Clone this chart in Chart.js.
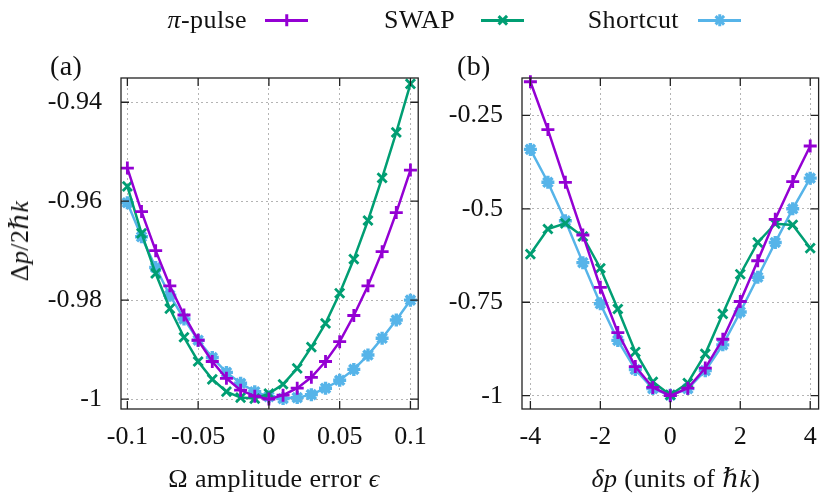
<!DOCTYPE html>
<html>
<head>
<meta charset="utf-8">
<script src="https://cdn.jsdelivr.net/npm/chart.js@4.4.0/dist/chart.umd.min.js"></script>
<style>
  body { margin: 0; background: #fff; }
  #wrap { position: relative; width: 830px; height: 496px; overflow: hidden;
          font-family: "Liberation Serif", "DejaVu Serif", serif; color: #111; }
  canvas { position: absolute; top: 0; }
  .t { position: absolute; font-size: 26px; line-height: 1; white-space: nowrap; letter-spacing: 0.4px; }
  .mk { position: absolute; }
  .bar { position: absolute; left: -6px; top: -1.25px; width: 12px; height: 2.5px; }
</style>
</head>
<body>
<div id="wrap">
  <canvas id="cA" width="440" height="496" style="left:0"></canvas>
  <canvas id="cB" width="390" height="496" style="left:440px"></canvas>
  <div class="t" style="left:50px;top:52px;font-size:28px">(a)</div>
  <div class="t" style="left:457px;top:52px;font-size:28px">(b)</div>
  <div class="t" style="left:20px;top:241px;transform:translate(-50%,-50%) rotate(-90deg)">Δ<i>p</i>/2<i>ℏk</i></div>
  <div class="t" style="left:274px;top:479px;transform:translate(-50%,-50%)">Ω amplitude error <i>ϵ</i></div>
  <div class="t" style="left:676px;top:479px;transform:translate(-50%,-50%)"><i>δp</i> (units of <i>ℏk</i>)</div>
  <div id="legend"></div>
</div>
<script>
// Ω amplitude error (panel a)
const epsX = [-0.1, -0.09, -0.08, -0.07, -0.06, -0.05, -0.04, -0.03, -0.02, -0.01, 0,
              0.01, 0.02, 0.03, 0.04, 0.05, 0.06, 0.07, 0.08, 0.09, 0.1];
const piEps    = [-0.9533, -0.9621, -0.9700, -0.9771, -0.9830, -0.9881, -0.9924, -0.9958, -0.9982, -0.9994, -1.0,
                  -0.9992, -0.9978, -0.9956, -0.9924, -0.9884, -0.9831, -0.9771, -0.9702, -0.9623, -0.9537];
const swapEps  = [-0.9570, -0.9665, -0.9746, -0.9817, -0.9875, -0.9924, -0.9960, -0.9985, -0.9997, -0.9999, -0.9989,
                  -0.9970, -0.9938, -0.9895, -0.9847, -0.9786, -0.9717, -0.9639, -0.9553, -0.9461, -0.9363];
const shortEps = [-0.9603, -0.9672, -0.9734, -0.9790, -0.9838, -0.9881, -0.9916, -0.9946, -0.9968, -0.9985, -0.9995,
                  -0.9999, -0.9997, -0.9991, -0.9978, -0.9962, -0.9940, -0.9911, -0.9877, -0.9840, -0.9800];

// momentum offset (panel b)
const dpX = [-4, -3.5, -3, -2.5, -2, -1.5, -1, -0.5, 0, 0.5, 1, 1.5, 2, 2.5, 3, 3.5, 4];
const piDp    = [-0.160, -0.288, -0.429, -0.570, -0.710, -0.831, -0.922, -0.978, -1.0,
                 -0.980, -0.926, -0.849, -0.748, -0.639, -0.528, -0.427, -0.332];
const swapDp  = [-0.621, -0.554, -0.539, -0.574, -0.659, -0.768, -0.883, -0.963, -0.998,
                 -0.966, -0.888, -0.781, -0.675, -0.590, -0.540, -0.543, -0.605];
const shortDp = [-0.341, -0.429, -0.532, -0.644, -0.754, -0.852, -0.930, -0.981, -0.999,
                 -0.981, -0.933, -0.864, -0.776, -0.683, -0.590, -0.500, -0.418];

const epsTicks = [-0.1, -0.05, 0, 0.05, 0.1];
const epsTickLabels = ['-0.1', '-0.05', '0', '0.05', '0.1'];
const epsYTicks = [-1, -0.98, -0.96, -0.94];
const epsYTickLabels = ['-1', '-0.98', '-0.96', '-0.94'];
const dpTicks = [-4, -2, 0, 2, 4];
const dpTickLabels = ['-4', '-2', '0', '2', '4'];
const dpYTicks = [-1, -0.75, -0.5, -0.25];
const dpYTickLabels = ['-1', '-0.75', '-0.5', '-0.25'];

const names = ['π-pulse', 'SWAP', 'Shortcut'];
const colors = ['#9400d3', '#009e73', '#56b4e9'];
const styles = ['cross', 'crossRot', 'star'];

const font = { family: '"Liberation Serif", "DejaVu Serif", serif', size: 26 };

// gnuplot-like box with inward ticks on all four sides
const frame = {
  id: 'frame',
  afterDraw(chart) {
    const { ctx, chartArea: a, scales } = chart;
    const len = 8;
    ctx.save();
    ctx.strokeStyle = '#222';
    ctx.lineWidth = 1.3;
    ctx.beginPath();
    scales.x.ticks.forEach(t => {
      const px = scales.x.getPixelForValue(t.value);
      ctx.moveTo(px, a.bottom); ctx.lineTo(px, a.bottom - len);
      ctx.moveTo(px, a.top); ctx.lineTo(px, a.top + len);
    });
    scales.y.ticks.forEach(t => {
      const py = scales.y.getPixelForValue(t.value);
      ctx.moveTo(a.left, py); ctx.lineTo(a.left + len, py);
      ctx.moveTo(a.right, py); ctx.lineTo(a.right - len, py);
    });
    ctx.stroke();
    ctx.strokeRect(a.left, a.top, a.right - a.left, a.bottom - a.top);
    ctx.restore();
  }
};

function makePanel(id, xs, series, xt, xl, yt, yl, xr, yr, yWidth, padRight) {
  const axis = (ticks, labels, range, pad) => ({
    type: 'linear',
    min: range[0], max: range[1],
    afterBuildTicks: s => { s.ticks = ticks.map(v => ({ value: v })); },
    ticks: { callback: (v, i) => labels[i], font, color: '#111', padding: pad,
             maxRotation: 0, autoSkip: false },
    grid: { color: '#b4b4b4', lineWidth: 1, drawTicks: false },
    border: { display: false, dash: [2, 3] }
  });
  const x = axis(xt, xl, xr, 13);
  x.afterFit = s => { s.height = 87; };
  const y = axis(yt, yl, yr, 19);
  y.afterFit = s => { s.width = yWidth; };
  new Chart(document.getElementById(id), {
    type: 'line',
    data: {
      datasets: series.map((vals, k) => ({
        label: names[k],
        data: vals.map((v, i) => ({ x: xs[i], y: v })),
        borderColor: colors[k],
        backgroundColor: colors[k],
        borderWidth: 2.5,
        pointStyle: styles[k],
        pointRadius: 6.5,
        pointBorderWidth: k === 2 ? 3.4 : 2.8,
        pointBorderColor: colors[k],
        tension: 0,
        clip: false
      }))
    },
    options: {
      responsive: false,
      animation: false,
      layout: { padding: { top: 78, right: padRight, bottom: 0, left: 0 } },
      plugins: { legend: { display: false }, tooltip: { enabled: false } },
      scales: { x, y }
    },
    plugins: [frame]
  });
}

makePanel('cA', epsX, [piEps, swapEps, shortEps], epsTicks, epsTickLabels, epsYTicks, epsYTickLabels,
          [-0.1045, 0.1055], [-1.002, -0.9351], 121, 12);
makePanel('cB', dpX, [piDp, swapDp, shortDp], dpTicks, dpTickLabels, dpYTicks, dpYTickLabels,
          [-4.24, 4.24], [-1.0356, -0.150], 82, 1);

// legend along the top, text right-justified before each sample
const legendPos = [{ textRight: 247, x0: 265 }, { textRight: 455, x0: 481 }, { textRight: 679, x0: 698 }];
const markAngles = [[0, 90], [45, 135], [0, 45, 90, 135]];
const leg = document.getElementById('legend');
names.forEach((n, k) => {
  const p = legendPos[k];
  const txt = document.createElement('div');
  txt.className = 't';
  txt.style.right = (830 - p.textRight) + 'px';
  txt.style.top = '7px';
  txt.innerHTML = k === 0 ? '<i>π</i>-pulse' : n;
  leg.appendChild(txt);
  const line = document.createElement('div');
  line.style.cssText = `position:absolute;left:${p.x0}px;top:19px;width:43px;height:2.5px;background:${colors[k]}`;
  leg.appendChild(line);
  const mk = document.createElement('div');
  mk.className = 'mk';
  mk.style.left = (p.x0 + 21.5) + 'px';
  mk.style.top = '20.25px';
  markAngles[k].forEach(ang => {
    const b = document.createElement('div');
    b.className = 'bar';
    b.style.background = colors[k];
    b.style.transform = `rotate(${ang}deg)`;
    mk.appendChild(b);
  });
  leg.appendChild(mk);
});
</script>
</body>
</html>
